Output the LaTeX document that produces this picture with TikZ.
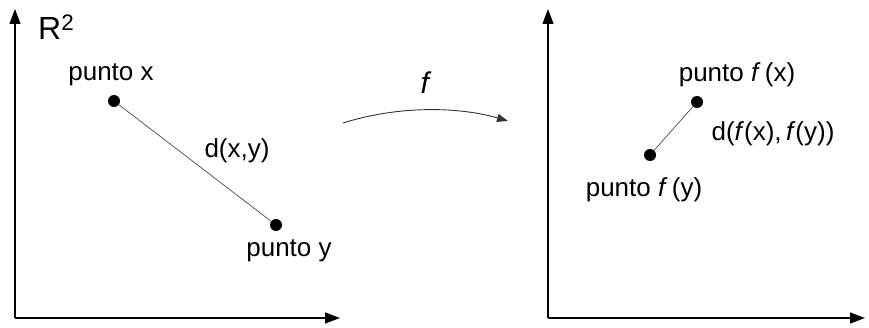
\documentclass[tikz,border=0pt]{standalone}
\usepackage{fontspec}
\setmainfont{Liberation Sans}
\usetikzlibrary{arrows.meta}
\begin{document}
\begin{tikzpicture}[x=1pt,y=1pt,
  axis/.style={line width=1.3pt,-{Triangle[length=15pt,width=11pt]}},
  dot/.style={circle,fill=black,inner sep=0pt,minimum size=12pt},
  lbl/.style={font=\fontsize{26}{28}\selectfont,inner sep=0pt},
  seg/.style={line width=0.7pt,black!70}]
\useasboundingbox (0,0) rectangle (869,327);
% left axes
\coordinate (O1) at (15,9);
\coordinate (Y1) at (15,318);
\coordinate (X1) at (340,9);
\draw[axis] (O1) -- (Y1);
\draw[axis] (O1) -- (X1);
\node[font=\fontsize{32}{34}\selectfont,inner sep=0pt,anchor=west] (R2) at (38,300) {R\textsuperscript{2}};
\node[dot] (px) at (114,226) {};
\node[dot] (py) at (276,102) {};
\draw[seg] (px) -- (py);
\node[lbl] (lx) at (111,252) {punto x};
\node[lbl] (ly) at (289,76) {punto y};
\node[lbl] (dxy) at (237,176) {d(x,y)};
% arrow f
\coordinate (fa) at (343,204);
\coordinate (fb) at (508,206);
\draw[line width=0.9pt,black!80,-{Triangle[length=11pt,width=8pt]}] (fa) .. controls (400,222) and (460,220) .. (fb);
\node[font=\fontsize{30}{32}\selectfont,inner sep=0pt] (f) at (426,244) {\textit{f}};
% right axes
\coordinate (O2) at (548,9);
\coordinate (Y2) at (548,318);
\coordinate (X2) at (865,9);
\draw[axis] (O2) -- (Y2);
\draw[axis] (O2) -- (X2);
\node[dot] (pfx) at (697,225) {};
\node[dot] (pfy) at (650,172) {};
\draw[seg] (pfx) -- (pfy);
\node[lbl] (lfx) at (737,252) {punto \textit{f}\,(x)};
\node[lbl] (lfy) at (644,137) {punto \textit{f}\,(y)};
\node[lbl] (dfxy) at (773,193) {d(\textit{f}(x),\,\textit{f}(y))};
\end{tikzpicture}
\end{document}
